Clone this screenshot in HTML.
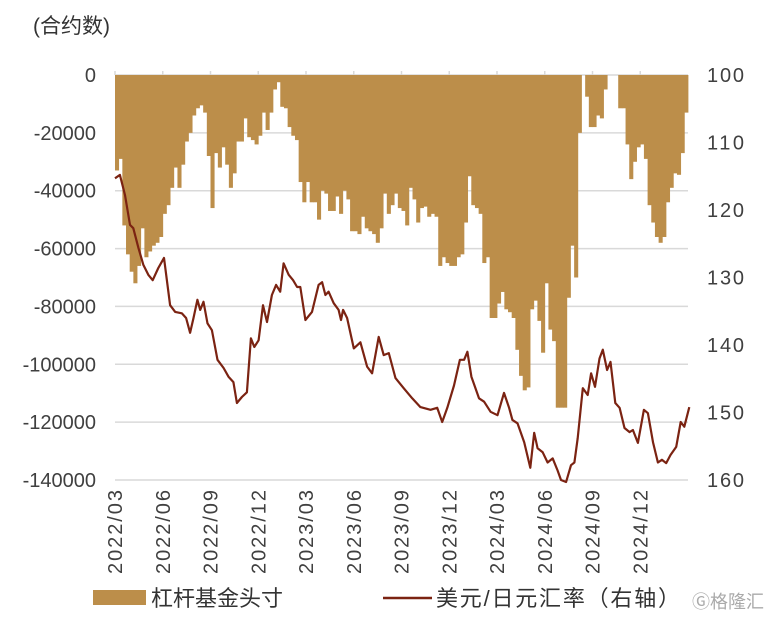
<!DOCTYPE html>
<html><head><meta charset="utf-8"><style>
html,body{margin:0;padding:0;background:#fff;}
svg{display:block;font-family:"Liberation Sans","Noto Sans CJK SC",sans-serif;}
</style></head><body>
<svg id="chart" width="767" height="617" viewBox="0 0 767 617">
<text x="33" y="33" font-size="21" fill="#333">(合约数)</text>
<g id="grid"></g><g id="bars"></g><g id="line"></g><g id="axes"></g>
<g>
<rect x="93" y="590" width="53" height="15" fill="#BC8E4A"/>
<text x="151" y="606" font-size="22" fill="#333">杠杆基金头寸</text>
<line x1="383" y1="598" x2="432" y2="598" stroke="#7B2312" stroke-width="2.5"/>
<text x="436" y="606" font-size="22" fill="#333" textLength="244">美元/日元汇率（右轴）</text>
</g>
<text x="692" y="608" font-size="18" fill="#aaa">Ⓖ格隆汇</text>
</svg>
<script>
const positions = [-33,-29,-52,-62,-68,-72,-66,-53,-63,-61,-59,-58,-56,-48,-45,-39,-32,-39,-31,-23,-20,-14,-11.5,-10.5,-13,-28,-46,-27,-32,-25,-31,-39,-34,-23,-23,-15,-21.5,-22.5,-24,-21,-13,-19,-13,-5,-2.5,-11,-11.5,-18,-21,-22.5,-37,-44,
-37,-44,-44,-50,-40,-41,-47,-47,-42,-48,-40,-43,-54,-54,-55,-49,-53,-54,-55,-58,-53,-41,-48,-45,-41,-46,-47,-52,-39,-43,-51,-46,-45.5,-49,-48,-49,-66,-63,-65,-66,-66,-63,-62,-51,-35,-45,-46,-48,-65,-63,-84,
-84,-79,-75,-81,-82,-84,-95,-104,-109,-108,-81,-78,-85,-96,-72,-88,-92,-115,-115,-115,-77,-59,-70,-20,0,-7.5,-18,-18,-14,-15,-5,0,0,0,-11.5,-11.5,-24,-36,-30,-25,-24,-29,-45,-51,-56,-58,-56,-44,-39,-34,-34.5,-27,-13];
const fxMonths = [0,0.31,0.63,0.94,1.15,1.47,1.78,2.09,2.37,2.72,3.08,3.46,3.78,4.2,4.47,4.72,4.93,5.18,5.35,5.56,5.81,6.09,6.44,6.82,7.13,7.44,7.66,7.97,8.29,8.54,8.75,9.02,9.3,9.55,9.86,10.12,10.38,10.59,10.91,11.19,11.44,
11.64,11.96,12.38,12.79,13.01,13.22,13.42,13.74,14.05,14.2,14.33,14.58,15.0,15.42,15.84,16.15,16.57,16.88,17.2,17.62,18.14,18.67,19.19,19.82,20.24,20.56,20.88,21.3,21.67,21.93,22.14,22.39,22.87,23.19,
23.6,24.03,24.44,24.76,24.97,25.29,25.71,26.09,26.34,26.55,26.87,27.18,27.5,27.81,28.02,28.34,28.65,28.86,29.07,29.39,29.7,29.91,30.16,30.44,30.65,30.92,31.13,31.43,31.7,32.01,32.33,32.54,32.85,33.23,33.48,33.8,34.11,34.36,34.63,34.9,35.26,35.54,35.77,36.08];
const fxValues = [115.3,114.8,117.8,122.2,122.7,125.6,128.1,129.6,130.4,128.6,127.1,134.1,135.1,135.3,136,138.2,136,133.3,134.8,133.6,136.8,137.8,142.2,143.4,144.7,145.5,148.6,147.7,147,139,140.3,139.3,134.1,136.6,132.6,131.1,132.1,127.9,129.6,130.4,131.4,
131.4,136.3,135.1,131.1,130.7,132.6,132.1,133.8,134.8,136.3,134.8,136,140.5,139.6,143.2,144.2,138.8,141.5,141.2,144.9,146.4,147.9,149.2,149.6,149.3,151.4,149.3,146,142.2,142.2,141,144.7,147.9,148.4,
149.9,150.4,147.1,149.3,151.1,151.6,154.4,158.2,153,155.3,155.9,157.4,156.8,158.6,160,160.3,157.8,157.4,153.8,146.4,147.4,144.2,146.2,142,140.7,143.7,142.5,148.6,149.3,152.3,152.9,152.6,154.5,149.6,150.1,154.4,157.4,157,157.5,156.3,155.1,151.4,152.1,149.2];
const leftTicks = [0,-20000,-40000,-60000,-80000,-100000,-120000,-140000];
const rightTicks = [100,110,120,130,140,150,160];
const xLabels = ["2022/03","2022/06","2022/09","2022/12","2023/03","2023/06","2023/09","2023/12","2024/03","2024/06","2024/09","2024/12"];

const NS="http://www.w3.org/2000/svg";
const X0=115,X1=688,Y0=75,Y1=480,MONTHS=36;
const yL=v=>Y0+(0-v*1000)/140000*(Y1-Y0);
const yLt=v=>Y0+(0-v)/140000*(Y1-Y0);
const yR=v=>Y0+(v-100)/60*(Y1-Y0);
const xM=m=>X0+m/MONTHS*(X1-X0);
function mk(tag,attrs,parent){const e=document.createElementNS(NS,tag);for(const k in attrs)e.setAttribute(k,attrs[k]);parent.appendChild(e);return e;}
const grid=document.getElementById('grid'),axes=document.getElementById('axes');
leftTicks.forEach((t,i)=>{
  const y=yLt(t);
  const g=mk('line',{x1:X0,x2:X1,y1:y,y2:y,stroke:'#d9d9d9','stroke-width':1.5},grid);
  
  
  const tx=mk('text',{x:96,y:y+7,'text-anchor':'end','font-size':20,fill:'#404040'},axes);
  tx.textContent=String(t);
  
  
});
rightTicks.forEach(t=>{
  const tx=mk('text',{x:707,y:yR(t)+7,'font-size':20,fill:'#404040','textLength':37},axes);
  tx.textContent=String(t);
  
  
});
xLabels.forEach((l,i)=>{
  const x=xM(i*3);
  const tk=mk('line',{x1:x,x2:x,y1:Y0-4,y2:Y0,stroke:'#d9d9d9','stroke-width':1.5},axes);
  
  
  const tx=mk('text',{x:0,y:0,'text-anchor':'end','font-size':20,fill:'#404040','textLength':84,transform:`translate(${x+7},490) rotate(-90)`},axes);
  tx.textContent=l;
  
  
});
const bars=document.getElementById('bars');
const bw=(X1-X0)/positions.length;
positions.forEach((v,i)=>{
  const y=yL(v);
  const r=mk('rect',{x:X0+i*bw,y:Y0,width:bw+0.4,height:Math.max(0,y-Y0),fill:'#BC8E4A'},bars);
  
  
});
const pts=fxMonths.map((m,i)=>xM(m).toFixed(1)+','+Math.min(yR(fxValues[i]),Y1+2).toFixed(1)).join(' ');
const pl=mk('polyline',{points:pts,fill:'none',stroke:'#7B2312','stroke-width':2.2,'stroke-linejoin':'round'},document.getElementById('line'));


</script>
</body></html>
